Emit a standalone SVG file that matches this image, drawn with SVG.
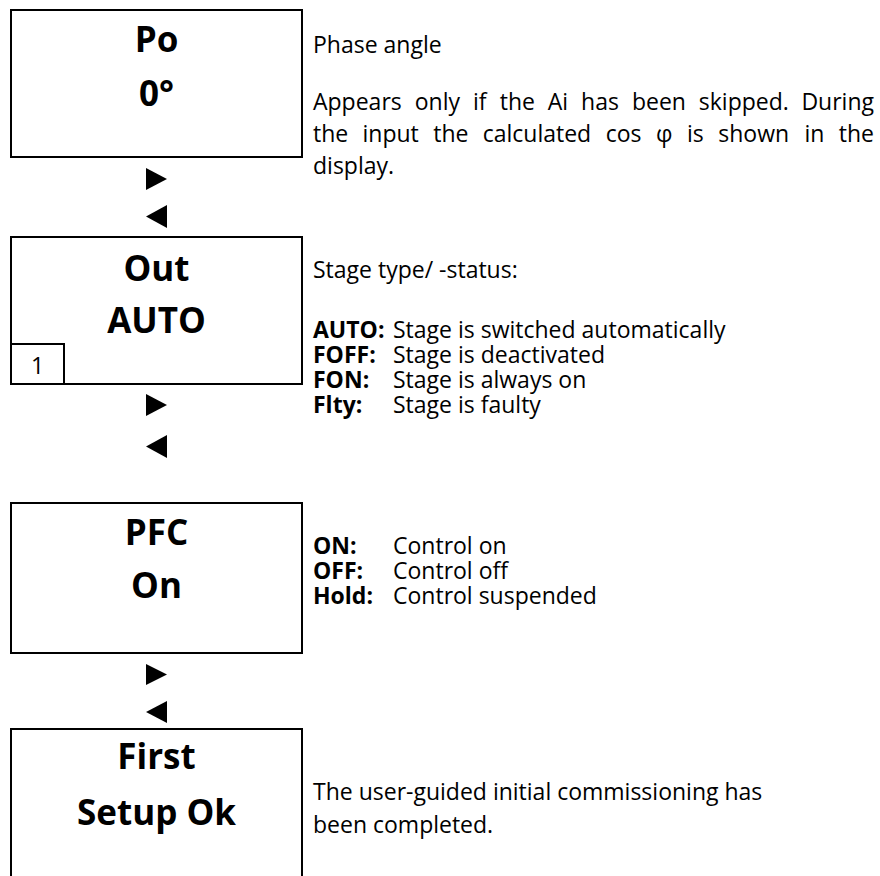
<svg xmlns="http://www.w3.org/2000/svg" width="880" height="876" viewBox="0 0 880 876">
<style>
.box{fill:#fff;stroke:#000;stroke-width:2}
.big{font-family:"Open Sans","Noto Sans",sans-serif;font-weight:700;font-size:35px;fill:#000;text-anchor:middle}
.txt{font-family:"Open Sans","Noto Sans",sans-serif;font-size:23px;fill:#000}
.b{font-weight:700}
.arr{fill:#000}
.e{text-anchor:end}
</style>
<rect width="880" height="876" fill="#fff"/>
<g id="connectors">
<polygon class="arr" points="146,168 167,179 146,190"/>
<polygon class="arr" points="167,205 146,216.5 167,228"/>
<polygon class="arr" points="146,394 167,405 146,416"/>
<polygon class="arr" points="167,435 146,446.5 167,458"/>
<polygon class="arr" points="146,664 167,674.5 146,685"/>
<polygon class="arr" points="167,701 146,712 167,723"/>
</g>
<g id="node-po">
<rect class="box" x="11" y="10" width="291" height="147"/>
<text class="big" x="156.5" y="52">Po</text>
<text class="big" x="156.5" y="106">0°</text>
</g>
<g id="note-po">
<text class="txt" x="313" y="53">Phase angle</text>
<text class="txt" y="110"><tspan x="313">Appears</tspan><tspan x="414.7">only</tspan><tspan x="473">if</tspan><tspan x="499.7">the</tspan><tspan x="547.7">Ai</tspan><tspan x="581.1">has</tspan><tspan x="631.9">been</tspan><tspan x="698.8">skipped.</tspan><tspan class="e" x="874">During</tspan></text>
<text class="txt" y="142"><tspan x="313">the</tspan><tspan x="362.5">input</tspan><tspan x="433.2">the</tspan><tspan x="482.7">calculated</tspan><tspan x="605.7">cos</tspan><tspan x="656">φ</tspan><tspan x="686.9">is</tspan><tspan x="718.3">shown</tspan><tspan x="804.5">in</tspan><tspan class="e" x="874">the</tspan></text>
<text class="txt" x="313" y="174">display.</text>
</g>
<g id="node-out">
<rect class="box" x="11" y="237" width="291" height="147"/>
<text class="big" x="156.5" y="281">Out</text>
<text class="big" x="156.5" y="333">AUTO</text>
<rect class="box" x="11" y="344" width="53" height="40"/>
<text class="txt" x="37.5" y="374" text-anchor="middle">1</text>
</g>
<g id="note-out">
<text class="txt" x="313" y="278">Stage type/ -status:</text>
<text class="txt b" x="313" y="338">AUTO:</text><text class="txt" x="393" y="338">Stage is switched automatically</text>
<text class="txt b" x="313" y="363">FOFF:</text><text class="txt" x="393" y="363">Stage is deactivated</text>
<text class="txt b" x="313" y="388">FON:</text><text class="txt" x="393" y="388">Stage is always on</text>
<text class="txt b" x="313" y="413">Flty:</text><text class="txt" x="393" y="413">Stage is faulty</text>
</g>
<g id="node-pfc">
<rect class="box" x="11" y="503" width="291" height="150"/>
<text class="big" x="156.5" y="545">PFC</text>
<text class="big" x="156.5" y="598">On</text>
</g>
<g id="note-pfc">
<text class="txt b" x="313" y="554">ON:</text><text class="txt" x="393" y="554">Control on</text>
<text class="txt b" x="313" y="579">OFF:</text><text class="txt" x="393" y="579">Control off</text>
<text class="txt b" x="313" y="604">Hold:</text><text class="txt" x="393" y="604">Control suspended</text>
</g>
<g id="node-first">
<rect class="box" x="11" y="729" width="291" height="160"/>
<text class="big" x="156.5" y="769">First</text>
<text class="big" x="156.5" y="825">Setup Ok</text>
</g>
<g id="note-first">
<text class="txt" x="313" y="800">The user-guided initial commissioning has</text>
<text class="txt" x="313" y="833">been completed.</text>
</g>
</svg>
